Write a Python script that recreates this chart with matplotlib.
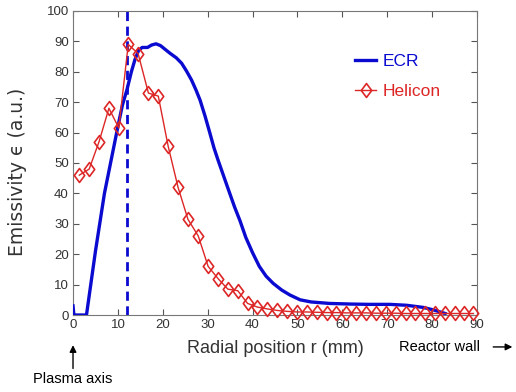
import numpy as np
import matplotlib.pyplot as plt
from matplotlib.path import Path

plt.rcParams['font.family'] = ['Liberation Sans', 'DejaVu Sans']

# ECR emissivity profile (solid blue line)
ecr_r = [0, 0.2, 3.0, 5.0, 7.0, 8.5, 10.0, 11.0, 12.0, 13.0, 13.8, 14.6, 15.4, 16.6, 17.5, 18.5,
         19.5, 20.5, 21.6, 23.0, 24.2, 25.3, 26.4, 27.4, 28.3, 29.4, 30.5, 31.4, 32.3, 34.2,
         36.0, 37.2, 38.5, 40.0, 41.5, 43.0, 44.6, 46.5, 48.3, 50.6, 53.0, 57.2, 62.0,
         66.0, 70.6, 74.3, 78.0, 80.5, 82.9]
ecr_e = [3, 0, 0, 21, 40, 51, 62, 69, 74, 80, 84, 87, 88, 88, 88.8, 89.2,
         88.6, 87.4, 86.1, 84.6, 82.8, 80.2, 77.3, 74.0, 70.7, 65.5, 59.8, 55.0, 51.0, 43.0,
         35.5, 31.0, 25.5, 20.5, 16.0, 12.8, 10.4, 8.2, 6.6, 5.0, 4.3, 3.8, 3.6,
         3.5, 3.5, 3.2, 2.5, 1.6, 0.5]

# Helicon emissivity profile (red diamonds)
hel_r = [1.4, 3.6, 5.8, 8.0, 10.2, 12.3, 14.5, 16.8, 19.0, 21.2, 23.4, 25.6, 27.9, 30.1,
         32.3, 34.5, 36.7, 38.9, 41.1, 43.3, 45.5, 47.7, 49.9, 52.1, 54.3, 56.5, 58.7, 60.9,
         63.1, 65.3, 67.5, 69.7, 71.9, 74.1, 76.3, 78.5, 80.7, 82.9, 85.0, 87.1, 89.2]
hel_e = [46, 48, 57, 68, 61.5, 89, 86, 73, 72, 55.5, 42, 31.5, 26, 16,
         12, 8.5, 8, 3.8, 2.6, 2.0, 1.5, 1.2, 1.0, 1.0, 0.9, 0.8, 0.8, 0.7,
         0.7, 0.7, 0.6, 0.6, 0.6, 0.5, 0.5, 0.5, 0.5, 0.5, 0.5, 0.5, 0.5]

peak_r = 12.0

blue = '#0a0ad0'
red = '#dd2626'
grey = '#333333'

# slightly tall diamond, like the original markers
diamond = Path([(0, 1), (0.75, 0), (0, -1), (-0.75, 0), (0, 1)],
               [Path.MOVETO, Path.LINETO, Path.LINETO, Path.LINETO, Path.CLOSEPOLY])

fig = plt.figure(figsize=(5.16, 3.92), dpi=100)
ax = fig.add_axes([0.1415, 0.1964, 0.7829, 0.7756])

ax.plot(ecr_r, ecr_e, color=blue, lw=2.4, label='ECR', zorder=3)
ax.plot(hel_r, hel_e, color=red, lw=1.0, marker=diamond, ms=10, mfc='none', mec=red,
        mew=1.2, label='Helicon', clip_on=False, zorder=4)
ax.plot([peak_r, peak_r], [0, 100], color=blue, lw=2.0, ls=(0, (3.3, 2.0)), zorder=2)

ax.set_xlim(0, 90)
ax.set_ylim(0, 100)
ax.set_xticks(np.arange(0, 91, 10))
ax.set_yticks(np.arange(0, 101, 10))
ax.tick_params(direction='in', top=True, right=True, length=4, labelsize=9.5,
               labelcolor=grey, color='#555555', pad=3)
for s in ax.spines.values():
    s.set_color('#777777')
    s.set_linewidth(0.8)

ax.set_xlabel('Radial position r (mm)', fontsize=13, color=grey, labelpad=6)
ax.set_ylabel('Emissivity \u03f5 (a.u.)', fontsize=13.5, color=grey,
              family=['DejaVu Sans'])
ax.yaxis.set_label_coords(-0.114, 0.472)

leg = ax.legend(loc='upper right', bbox_to_anchor=(0.95, 0.91), frameon=False,
                fontsize=12.5, handlelength=1.2, handletextpad=0.4, labelspacing=0.85)
for txt, c in zip(leg.get_texts(), [blue, red]):
    txt.set_color(c)

ax.annotate('', xy=(0, -9), xytext=(0, -18.5), xycoords='data', textcoords='data',
            arrowprops=dict(arrowstyle='-|>', color='black', lw=1.0), annotation_clip=False)
ax.text(0, -21, 'Plasma axis', ha='center', va='center', fontsize=10.5, color='black',
        clip_on=False)
ax.text(81.7, -10.5, 'Reactor wall', ha='center', va='center', fontsize=10.5,
        color='black', clip_on=False)
ax.annotate('', xy=(98.5, -10.5), xytext=(93, -10.5), xycoords='data', textcoords='data',
            arrowprops=dict(arrowstyle='-|>', color='black', lw=1.0), annotation_clip=False)

fig.savefig('out.png', dpi=100)
